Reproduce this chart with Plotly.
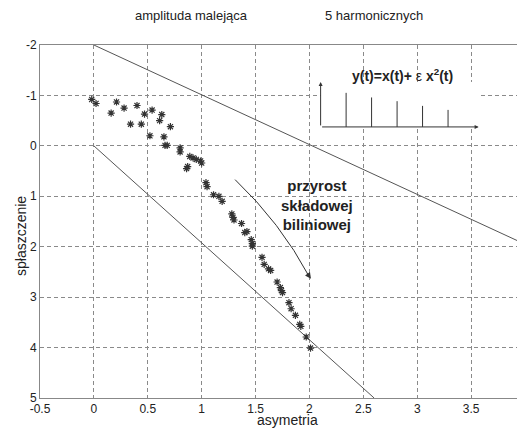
import plotly.graph_objects as go

# ---- data ----
asymetria = [-0.02, 0.02, 0.21, 0.16, 0.28, 0.40, 0.34, 0.44, 0.47, 0.54, 0.63, 0.61, 0.71,
             0.52, 0.65, 0.66, 0.68, 0.80, 0.80, 0.89, 0.92, 0.95, 0.99, 1.00, 0.87, 0.86,
             1.04, 1.05, 1.11, 1.16, 1.19, 1.28, 1.29, 1.30, 1.37, 1.40, 1.42, 1.46, 1.47,
             1.47, 1.56, 1.58, 1.62, 1.64, 1.70, 1.73, 1.74, 1.75, 1.81, 1.83, 1.87, 1.91,
             1.92, 1.97, 2.01]
splaszczenie = [-0.92, -0.84, -0.87, -0.65, -0.75, -0.80, -0.43, -0.43, -0.63, -0.71, -0.62,
                -0.50, -0.38, -0.20, -0.18, -0.01, -0.01, 0.04, 0.12, 0.21, 0.24, 0.27, 0.30,
                0.34, 0.41, 0.45, 0.73, 0.81, 0.97, 1.00, 1.10, 1.35, 1.42, 1.47, 1.54, 1.72,
                1.70, 1.86, 1.94, 1.99, 2.21, 2.35, 2.44, 2.47, 2.70, 2.81, 2.87, 2.91, 3.11,
                3.23, 3.36, 3.54, 3.58, 3.79, 4.01]

upper_x = [0, 4]
upper_y = [-2, 1.95]
lower_x = [0, 2.6]
lower_y = [0, 5]

stem_n = [1, 2, 3, 4, 5]
stem_h = [1.0, 0.865, 0.756, 0.618, 0.5]

x_ticks = [-0.5, 0, 0.5, 1, 1.5, 2, 2.5, 3, 3.5, 4]
x_ticklabels = ["-0.5", "0", "0.5", "1", "1.5", "2", "2.5", "3", "3.5", "4"]
y_ticks = [-2, -1, 0, 1, 2, 3, 4, 5]
y_ticklabels = ["-2", "-1", "0", "1", "2", "3", "4", "5"]

FONT = "Liberation Sans, Arial, sans-serif"
INK = "#222222"

fig = go.Figure()

fig.add_trace(go.Scatter(x=upper_x, y=upper_y, mode="lines",
                         line=dict(color="#555555", width=1), hoverinfo="skip"))
fig.add_trace(go.Scatter(x=lower_x, y=lower_y, mode="lines",
                         line=dict(color="#555555", width=1), hoverinfo="skip"))
fig.add_trace(go.Scatter(x=asymetria, y=splaszczenie, mode="markers",
                         marker=dict(symbol="asterisk-open", size=6, color="#333333",
                                     line=dict(color="#333333", width=1.2))))

# inset stem plot
sx, sy = [], []
for n, h in zip(stem_n, stem_h):
    sx += [n, n, None]
    sy += [0, h, None]
fig.add_trace(go.Scatter(x=sx, y=sy, mode="lines", xaxis="x2", yaxis="y2",
                         line=dict(color="#333333", width=1), hoverinfo="skip"))

grid = dict(showgrid=True, gridcolor="#8a8a8a", griddash="4px,3px", gridwidth=1,
            zeroline=False, showline=True, linecolor="#888888", linewidth=1, mirror=True,
            ticks="", automargin=False, tickfont=dict(family=FONT, size=12, color=INK))

fig.update_layout(
    width=525, height=428,
    margin=dict(l=32, r=8, t=37, b=38),
    paper_bgcolor="white", plot_bgcolor="white",
    showlegend=False,
    xaxis=dict(range=[-0.5, 4], tickvals=x_ticks, ticktext=x_ticklabels, **grid),
    yaxis=dict(range=[5, -2], tickvals=y_ticks, ticktext=y_ticklabels, **grid),
    xaxis2=dict(domain=[0.5786, 0.9044], range=[0, 6.2], anchor="y2", visible=False),
    yaxis2=dict(domain=[0.7679, 0.8953], range=[0, 1.32], anchor="x2", visible=False),
)

# white background behind the inset
fig.add_shape(type="rect", xref="paper", yref="paper", x0=0.561, x1=0.911, y0=0.764, y1=0.965,
              fillcolor="white", line=dict(width=0), layer="between")

# curved arrow
fig.add_shape(type="path", xref="x", yref="y",
              path="M 1.31,0.67 Q 1.73,1.52 2.00,2.60",
              line=dict(color="#333333", width=1))
fig.add_annotation(x=2.014, y=2.634, ax=1.97, ay=2.50, xref="x", yref="y",
                   axref="x", ayref="y", text="", showarrow=True,
                   arrowhead=2, arrowsize=1.2, arrowwidth=1, arrowcolor="#333333")

# inset axes with arrows
fig.add_annotation(x=6.2, y=0, ax=0, ay=0, xref="x2", yref="y2", axref="x2", ayref="y2",
                   text="", showarrow=True, arrowhead=2, arrowsize=0.8, arrowwidth=1,
                   arrowcolor="#333333")
fig.add_annotation(x=0, y=1.32, ax=0, ay=0, xref="x2", yref="y2", axref="x2", ayref="y2",
                   text="", showarrow=True, arrowhead=2, arrowsize=0.8, arrowwidth=1,
                   arrowcolor="#333333")

def label(x, y, text, size, **kw):
    fig.add_annotation(x=x, y=y, xref="paper", yref="paper", showarrow=False,
                       xanchor="center", yanchor="middle", text=text,
                       font=dict(family=FONT, size=size, color=INK), **kw)

label(0.748, 0.914, "<b>y(t)=x(t)+</b> ε <b>x<sup>2</sup>(t)</b>", 14)

fig.add_annotation(x=2.07, y=1.18, xref="x", yref="y", showarrow=False,
                   xanchor="center", yanchor="middle",
                   text="<b>przyrost<br>składowej<br>biliniowej</b>", align="center",
                   font=dict(family=FONT, size=15, color=INK))

# titles
label(0.312, 1.084, "amplituda malejąca", 13)
label(0.688, 1.084, "5 harmonicznych", 13)
label(0.511, -0.0623, "asymetria", 14)
label(-0.0395, 0.4585, "spłaszczenie", 14, textangle=-90)

fig.write_html("out.html")
